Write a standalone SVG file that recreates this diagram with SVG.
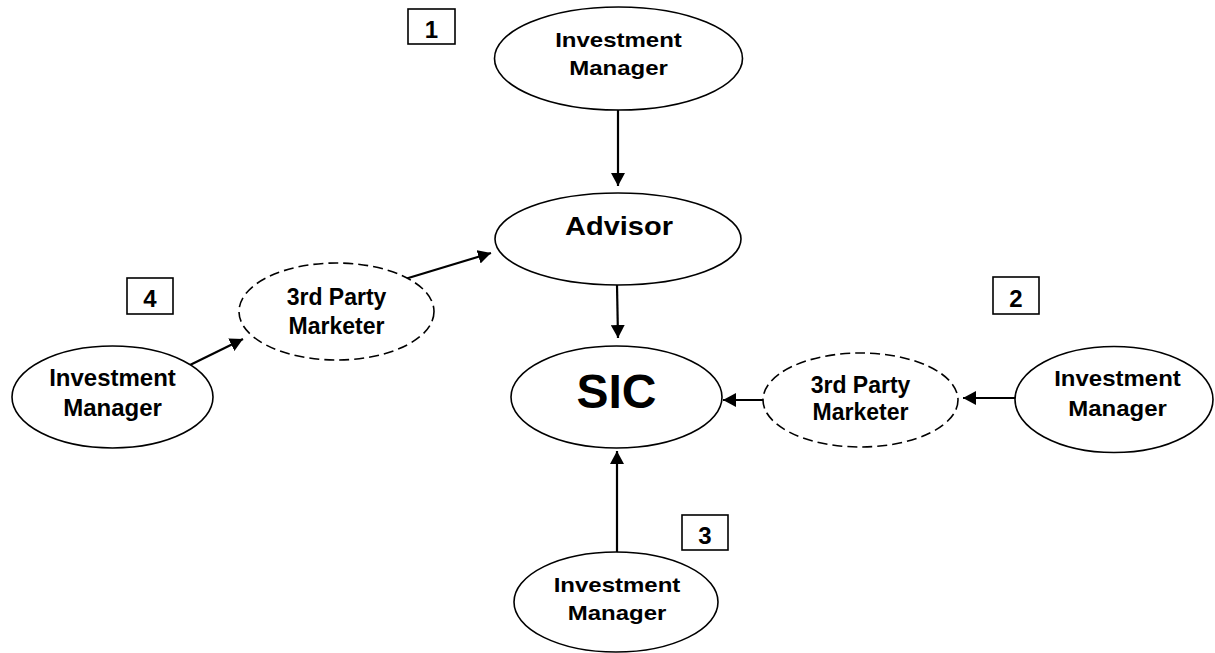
<svg xmlns="http://www.w3.org/2000/svg" width="1215" height="653" viewBox="0 0 1215 653">
<style>
.node{fill:#fff;stroke:#000;stroke-width:1.6}
.dash{fill:#fff;stroke:#000;stroke-width:1.6;stroke-dasharray:10 5}
.box{fill:#fff;stroke:#000;stroke-width:1.6}
.t{font-family:"Liberation Sans",Arial,sans-serif;font-weight:bold;fill:#000;text-anchor:middle}
.conn line{stroke:#000;stroke-width:2.2;marker-end:url(#ah)}
</style>
<defs>
<marker id="ah" markerUnits="userSpaceOnUse" markerWidth="14" markerHeight="14" refX="13" refY="7" orient="auto" viewBox="0 0 14 14">
<path d="M0,0 L13,7 L0,14 z" fill="#000"/>
</marker>
</defs>
<rect width="1215" height="653" fill="#fff"/>
<g id="connectors" class="conn">
<line x1="618" y1="110" x2="618" y2="186"/>
<line x1="617" y1="285" x2="618" y2="338"/>
<line x1="190" y1="365" x2="243" y2="339"/>
<line x1="405" y1="279" x2="491" y2="253"/>
<line x1="764" y1="400" x2="723" y2="400"/>
<line x1="1015" y1="398" x2="963" y2="398"/>
<line x1="617" y1="552" x2="617" y2="451"/>
</g>
<g id="im-top">
<ellipse class="node" cx="618.5" cy="58.5" rx="124" ry="51.5"/>
<g transform="translate(618.5 0) scale(1 0.87)">
<text class="t" x="0" y="54" font-size="24">Investment</text>
<text class="t" x="0" y="86" font-size="24">Manager</text>
</g>
</g>
<g id="advisor">
<ellipse class="node" cx="618" cy="239" rx="123" ry="46"/>
<g transform="translate(619 235) scale(1 0.88)">
<text class="t" x="0" y="0" font-size="29">Advisor</text>
</g>
</g>
<g id="sic">
<ellipse class="node" cx="616.5" cy="397" rx="105.5" ry="51"/>
<text class="t" x="616.5" y="408" font-size="48">SIC</text>
</g>
<g id="marketer-left">
<ellipse class="dash" cx="336.5" cy="311.5" rx="97.5" ry="48.5"/>
<text class="t" x="336.5" y="305" font-size="23">3rd Party</text>
<text class="t" x="336.5" y="334" font-size="23">Marketer</text>
</g>
<g id="im-left">
<ellipse class="node" cx="112.5" cy="397" rx="100.5" ry="51"/>
<text class="t" x="112.5" y="386" font-size="24">Investment</text>
<text class="t" x="112.5" y="416" font-size="24">Manager</text>
</g>
<g id="marketer-right">
<ellipse class="dash" cx="860.5" cy="400" rx="97.5" ry="47"/>
<text class="t" x="860.5" y="393" font-size="23">3rd Party</text>
<text class="t" x="860.5" y="420" font-size="23">Marketer</text>
</g>
<g id="im-right">
<ellipse class="node" cx="1114" cy="399.5" rx="99" ry="53"/>
<g transform="translate(1117.5 0) scale(1 0.93)">
<text class="t" x="0" y="415" font-size="24">Investment</text>
<text class="t" x="0" y="447" font-size="24">Manager</text>
</g>
</g>
<g id="im-bottom">
<ellipse class="node" cx="616" cy="602" rx="102" ry="50"/>
<g transform="translate(617 0) scale(1 0.87)">
<text class="t" x="0" y="680" font-size="24">Investment</text>
<text class="t" x="0" y="713" font-size="24">Manager</text>
</g>
</g>
<g id="label-1">
<rect class="box" x="408" y="9" width="47" height="35"/>
<text class="t" x="431.5" y="38" font-size="24">1</text>
</g>
<g id="label-2">
<rect class="box" x="993" y="277" width="46" height="37"/>
<text class="t" x="1016" y="307" font-size="24">2</text>
</g>
<g id="label-3">
<rect class="box" x="682" y="515" width="46" height="35"/>
<text class="t" x="705" y="544" font-size="24">3</text>
</g>
<g id="label-4">
<rect class="box" x="127" y="278" width="46" height="36"/>
<text class="t" x="150" y="307" font-size="24">4</text>
</g>
</svg>
